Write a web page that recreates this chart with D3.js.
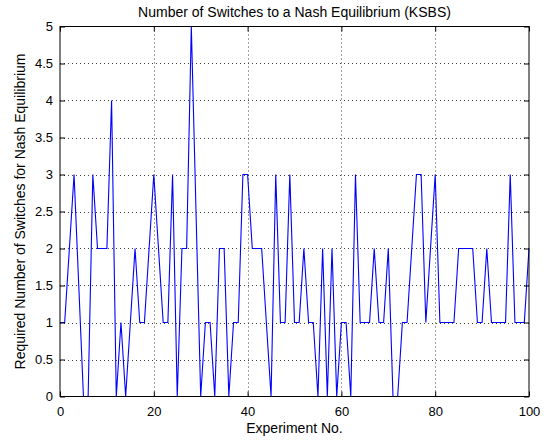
<!DOCTYPE html>
<html>
<head>
<meta charset="utf-8">
<script src="https://d3js.org/d3.v7.min.js"></script>
<style>
  body { margin: 0; background: #fff; }
  text { font-family: "Liberation Sans", Arial, Helvetica, sans-serif; fill: #000; }
</style>
</head>
<body>
<div id="chart"></div>
<script>
// switches needed per experiment, experiments 0..100
var experiments = d3.range(0, 101);
var switches = [1, 1, 2, 3, 1.5, 0, 0, 3, 2, 2,
                2, 4, 0, 1, 0, 1, 2, 1, 1, 2,
                3, 2, 1, 1, 3, 0, 2, 2, 5, 2.5,
                0, 1, 1, 0, 2, 2, 0, 1, 1, 3,
                3, 2, 2, 2, 1, 0, 3, 1, 1, 3,
                1, 1, 2, 1, 1, 0, 2, 0, 2, 0,
                1, 1, 0, 3, 1, 1, 1, 2, 1, 1,
                2, 0, 0, 1, 1, 2, 3, 3, 1, 2,
                3, 1, 1, 1, 1, 2, 2, 2, 2, 1,
                1, 2, 1, 1, 1, 1, 3, 1, 1, 1,
                2];
var xTicks = [0, 20, 40, 60, 80, 100];
var yTicks = [0, 0.5, 1, 1.5, 2, 2.5, 3, 3.5, 4, 4.5, 5];

var w = 552, h = 441;
// plot box (window.top is taken, so no "top" here)
var pl = 60, pr = 529, pt = 26.5, pb = 396.5;

var svg = d3.select("#chart")
    .append("svg")
    .attr("width", w)
    .attr("height", h);

var x = d3.scaleLinear().domain([0, 100]).range([pl, pr]);
var y = d3.scaleLinear().domain([0, 5]).range([pb, pt]);

// dotted grid
svg.append("g")
    .selectAll("line")
    .data(xTicks.slice(1, -1))
    .enter().append("line")
    .attr("x1", function (d) { return Math.round(x(d)) + 0.5; })
    .attr("x2", function (d) { return Math.round(x(d)) + 0.5; })
    .attr("y1", pt)
    .attr("y2", pb)
    .attr("stroke", "#444")
    .attr("stroke-dasharray", "1,3");

svg.append("g")
    .selectAll("line")
    .data(yTicks.slice(1, -1))
    .enter().append("line")
    .attr("x1", pl)
    .attr("x2", pr)
    .attr("y1", function (d) { return Math.round(y(d)) + 0.5; })
    .attr("y2", function (d) { return Math.round(y(d)) + 0.5; })
    .attr("stroke", "#444")
    .attr("stroke-dasharray", "1,3");

// data line
var line = d3.line()
    .x(function (d, i) { return x(experiments[i]); })
    .y(function (d) { return y(d); });

svg.append("path")
    .datum(switches)
    .attr("d", line)
    .attr("fill", "none")
    .attr("stroke", "#0000ff")
    .attr("stroke-width", 1.1);

// axes, MATLAB style: ticks inside on all four sides
var tl = 5;
svg.append("g")
    .attr("transform", "translate(0," + pb + ")")
    .call(d3.axisBottom(x).tickValues(xTicks).tickSize(-tl).tickPadding(10))
    .call(function (g) { g.select(".domain").remove(); });
svg.append("g")
    .attr("transform", "translate(0," + pt + ")")
    .call(d3.axisTop(x).tickValues(xTicks).tickSize(-tl).tickFormat(""))
    .call(function (g) { g.select(".domain").remove(); });
svg.append("g")
    .attr("transform", "translate(" + pl + ",0)")
    .call(d3.axisLeft(y).tickValues(yTicks).tickSize(-tl).tickPadding(7).tickFormat(d3.format("")))
    .call(function (g) { g.select(".domain").remove(); });
svg.append("g")
    .attr("transform", "translate(" + pr + ",0)")
    .call(d3.axisRight(y).tickValues(yTicks).tickSize(-tl).tickFormat(""))
    .call(function (g) { g.select(".domain").remove(); });

svg.selectAll(".tick text")
    .style("font-size", "13px");
svg.selectAll(".tick line")
    .attr("stroke", "#000");

svg.append("rect")
    .attr("x", pl)
    .attr("y", pt)
    .attr("width", pr - pl)
    .attr("height", pb - pt)
    .attr("fill", "none")
    .attr("stroke", "#000")
    .attr("stroke-width", 1);

// titles
svg.append("text")
    .attr("x", (pl + pr) / 2)
    .attr("y", 17)
    .style("font-size", "14px")
    .style("text-anchor", "middle")
    .text("Number of Switches to a Nash Equilibrium (KSBS)");

svg.append("text")
    .attr("x", (pl + pr) / 2)
    .attr("y", 433)
    .style("font-size", "14px")
    .style("text-anchor", "middle")
    .text("Experiment No.");

svg.append("text")
    .attr("transform", "translate(25," + (pt + pb) / 2 + ") rotate(-90)")
    .style("font-size", "14px")
    .style("text-anchor", "middle")
    .text("Required Number of Switches for Nash Equilibrium");
</script>
</body>
</html>
